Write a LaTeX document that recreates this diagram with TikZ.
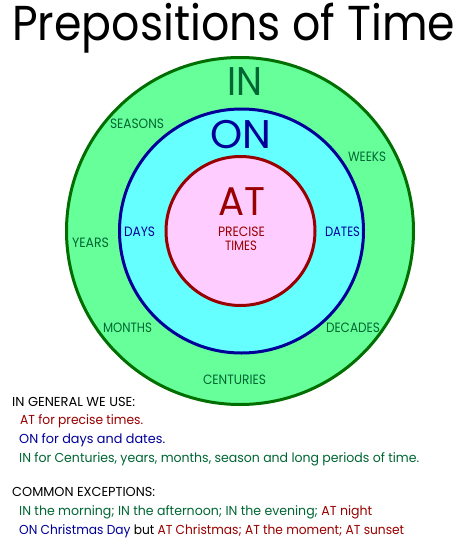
\documentclass[tikz,border=0pt]{standalone}
\usepackage{fontspec}
\usepackage{graphicx}
\setmainfont{Poppins}
\definecolor{ingreen}{RGB}{102,255,153}
\definecolor{inline}{RGB}{0,110,0}
\definecolor{intext}{RGB}{0,102,51}
\definecolor{oncyan}{RGB}{102,255,255}
\definecolor{onblue}{RGB}{0,0,153}
\definecolor{atpink}{RGB}{255,204,255}
\definecolor{atred}{RGB}{153,0,0}
\newlength\fitlen
\newcommand\fitto[2]{\settowidth\fitlen{#2}\scalebox{\fpeval{#1/(\the\fitlen)}}[1]{#2}}
\begin{document}
\begin{tikzpicture}[x=1pt,y=-1pt,
  lab/.style={inner sep=0pt,anchor=base,text height=10pt,text depth=0pt,font=\fontsize{13.5}{13.5}\selectfont},
  big/.style={inner sep=0pt,anchor=base,text height=29pt,text depth=0pt,font=\fontsize{40}{40}\selectfont},
  line/.style={inner sep=0pt,anchor=base west,font=\fontsize{13}{13}\selectfont}]
\useasboundingbox (0,0) rectangle (469,554);
\fill[white] (0,0) rectangle (469,554);
\node[inner sep=0pt,anchor=base west,font=\fontsize{49}{49}\selectfont] (title) at (12,40) {\fitto{443}{Prepositions of Time}};
\draw[inline,fill=ingreen,line width=3pt] (240,231) circle (173.5);
\draw[onblue,fill=oncyan,line width=3pt] (241.5,231) circle (122);
\draw[atred,fill=atpink,line width=3pt] (240.5,231) circle (74.5);
\node[big,intext] (in) at (245,95) {\fitto{35}{IN}};
\node[big,onblue] (on) at (240.5,148) {\fitto{61}{ON}};
\node[big,atred] (at) at (241.5,215) {\fitto{47}{AT}};
\node[lab,atred] (precise) at (241.5,236) {\fitto{47}{PRECISE}};
\node[lab,atred] (times) at (241,250) {\fitto{32}{TIMES}};
\node[lab,intext] (seasons) at (137,128) {\fitto{54}{SEASONS}};
\node[lab,intext] (weeks) at (367,161) {\fitto{38}{WEEKS}};
\node[lab,intext] (years) at (90.5,247) {\fitto{37}{YEARS}};
\node[lab,intext] (months) at (127.5,332) {\fitto{49}{MONTHS}};
\node[lab,intext] (decades) at (353,332) {\fitto{54}{DECADES}};
\node[lab,intext] (centuries) at (234.5,384) {\fitto{63}{CENTURIES}};
\node[lab,onblue] (days) at (139.5,236) {\fitto{31}{DAYS}};
\node[lab,onblue] (dates) at (342.5,236) {\fitto{35}{DATES}};
\node[line] (g0) at (12,406) {\fitto{123}{IN GENERAL WE USE:}};
\node[line,atred] (g1) at (20,424) {\fitto{123}{AT for precise times.}};
\node[line,onblue] (g2) at (19,443) {\fitto{146}{ON for days and dates.}};
\node[line,intext] (g3) at (19,462) {\fitto{400}{IN for Centuries, years, months, season and long periods of time.}};
\node[line] (e0) at (12,496) {\fitto{143}{COMMON EXCEPTIONS:}};
\node[line] (e1) at (19,515) {\fitto{353}{\textcolor{intext}{IN the morning; IN the afternoon; IN the evening;} \textcolor{atred}{AT night}}};
\node[line] (e2) at (19,534) {\fitto{385}{\textcolor{onblue}{ON Christmas Day} but \textcolor{atred}{AT Christmas; AT the moment; AT sunset}}};
\end{tikzpicture}
\end{document}
